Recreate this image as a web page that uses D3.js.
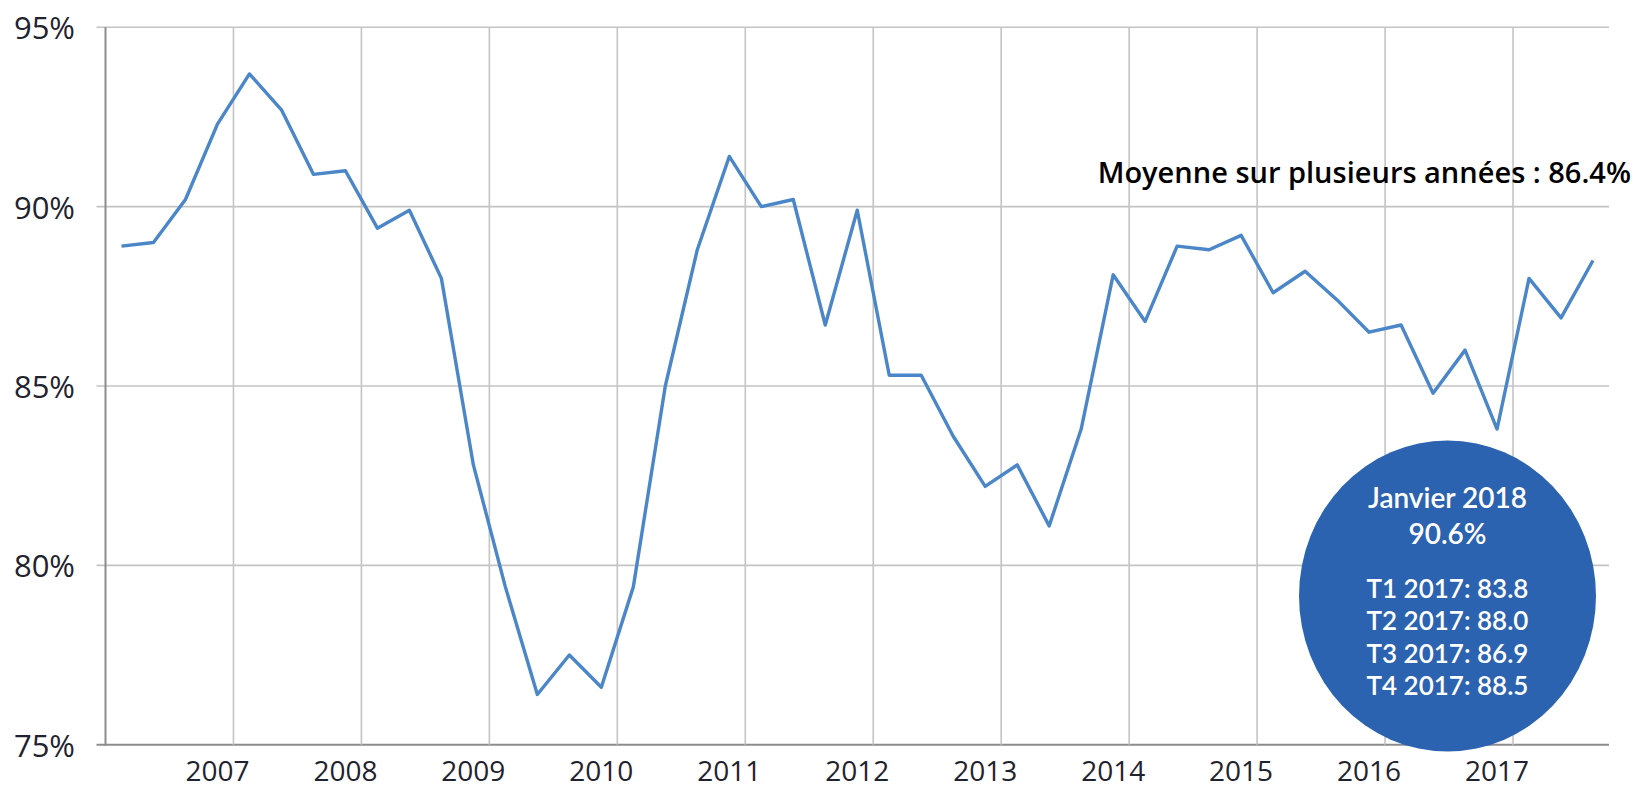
<!DOCTYPE html>
<html>
<head>
<meta charset="utf-8">
<script src="https://cdn.jsdelivr.net/npm/d3@7"></script>
<style>
  html, body { margin: 0; padding: 0; background: #ffffff; }
  svg { display: block; }
</style>
</head>
<body>
<svg id="chart" width="1637" height="789"></svg>
<script>
// ---- Data ----
const quarters = [
  "2006 T2","2006 T3","2006 T4",
  "2007 T1","2007 T2","2007 T3","2007 T4",
  "2008 T1","2008 T2","2008 T3","2008 T4",
  "2009 T1","2009 T2","2009 T3","2009 T4",
  "2010 T1","2010 T2","2010 T3","2010 T4",
  "2011 T1","2011 T2","2011 T3","2011 T4",
  "2012 T1","2012 T2","2012 T3","2012 T4",
  "2013 T1","2013 T2","2013 T3","2013 T4",
  "2014 T1","2014 T2","2014 T3","2014 T4",
  "2015 T1","2015 T2","2015 T3","2015 T4",
  "2016 T1","2016 T2","2016 T3","2016 T4",
  "2017 T1","2017 T2","2017 T3","2017 T4"
];
const values = [
  88.9, 89.0, 90.2,
  92.3, 93.7, 92.7, 90.9,
  91.0, 89.4, 89.9, 88.0,
  82.8, 79.4, 76.4, 77.5,
  76.6, 79.4, 85.0, 88.8,
  91.4, 90.0, 90.2, 86.7,
  89.9, 85.3, 85.3, 83.6,
  82.2, 82.8, 81.1, 83.8,
  88.1, 86.8, 88.9, 88.8,
  89.2, 87.6, 88.2, 87.4,
  86.5, 86.7, 84.8, 86.0,
  83.8, 88.0, 86.9, 88.5
];
const yearLabels = ["2007","2008","2009","2010","2011","2012","2013","2014","2015","2016","2017"];
const yearLabelQuarters = ["2007 T1","2008 T1","2009 T1","2010 T1","2011 T1","2012 T1","2013 T1","2014 T1","2015 T1","2016 T1","2017 T1"];
const gridQuarters = ["2007 T2","2008 T2","2009 T2","2010 T2","2011 T2","2012 T2","2013 T2","2014 T2","2015 T2","2016 T2","2017 T2"];
const yTicks = [75, 80, 85, 90, 95];
const averageText = "Moyenne sur plusieurs années : 86.4%";
const bubbleTitle = ["Janvier 2018", "90.6%"];
const bubbleLines = ["T1 2017: 83.8", "T2 2017: 88.0", "T3 2017: 86.9", "T4 2017: 88.5"];

// ---- Layout ----
const plotLeft = 105.5, plotRight = 1609, plotTop = 27.3, plotBottom = 744.7;
const font = "'Open Sans', 'Noto Sans', sans-serif";
const bubbleFont = "Lato, 'Open Sans', sans-serif";
const svg = d3.select("#chart");

const x = d3.scaleBand().domain(quarters).range([plotLeft, plotRight]).paddingInner(0).paddingOuter(0);
const y = d3.scaleLinear().domain([75, 95]).range([plotBottom, plotTop]);
const cx = q => x(q) + x.bandwidth() / 2;

// horizontal gridlines (with small left tick)
svg.append("g").selectAll("line").data(yTicks).join("line")
  .attr("x1", plotLeft - 9).attr("x2", plotRight)
  .attr("y1", d => y(d)).attr("y2", d => y(d))
  .attr("stroke", d => d === 75 ? "#8c8c8c" : "#c4c4c4")
  .attr("stroke-width", d => d === 75 ? 2 : 1.6);

// vertical gridlines
svg.append("g").selectAll("line").data(gridQuarters).join("line")
  .attr("x1", d => x(d)).attr("x2", d => x(d))
  .attr("y1", plotTop).attr("y2", plotBottom)
  .attr("stroke", "#c4c4c4").attr("stroke-width", 1.6);

// y axis line
svg.append("line")
  .attr("x1", plotLeft).attr("x2", plotLeft).attr("y1", plotTop).attr("y2", plotBottom + 1)
  .attr("stroke", "#8c8c8c").attr("stroke-width", 2);

// y tick labels
svg.append("g").selectAll("text").data(yTicks).join("text")
  .attr("x", 75).attr("y", d => y(d))
  .attr("text-anchor", "end").attr("dominant-baseline", "central")
  .attr("font-family", font).attr("font-size", 31).attr("fill", "#1f2330")
  .text(d => d + "%");

// x year labels
svg.append("g").selectAll("text").data(yearLabels).join("text")
  .attr("x", (d, i) => cx(yearLabelQuarters[i])).attr("y", 781)
  .attr("text-anchor", "middle")
  .attr("font-family", font).attr("font-size", 28).attr("fill", "#1f2330")
  .text(d => d);

// line
const line = d3.line().x((d, i) => cx(quarters[i])).y(d => y(d));
svg.append("path").datum(values)
  .attr("d", line).attr("fill", "none")
  .attr("stroke", "#4a86c8").attr("stroke-width", 3.4)
  .attr("stroke-linejoin", "round");

// average annotation
svg.append("text")
  .attr("x", 1631).attr("y", 171)
  .attr("text-anchor", "end").attr("dominant-baseline", "central")
  .attr("font-family", font).attr("font-size", 29).attr("font-weight", 600).attr("fill", "#000")
  .text(averageText);

// bubble
const bx = 1447.5, by = 596;
svg.append("ellipse").attr("cx", bx).attr("cy", by).attr("rx", 148.5).attr("ry", 155.5)
  .attr("fill", "#2c63b0");
svg.append("g").selectAll("text").data(bubbleTitle).join("text")
  .attr("x", bx).attr("y", (d, i) => 497 + i * 36)
  .attr("text-anchor", "middle").attr("dominant-baseline", "central")
  .attr("font-family", bubbleFont).attr("font-size", 28).attr("font-weight", 600).attr("fill", "#fff")
  .text(d => d);
svg.append("g").selectAll("text").data(bubbleLines).join("text")
  .attr("x", bx).attr("y", (d, i) => 588 + i * 32.3)
  .attr("text-anchor", "middle").attr("dominant-baseline", "central")
  .attr("font-family", bubbleFont).attr("font-size", 26).attr("font-weight", 600).attr("fill", "#fff")
  .text(d => d);
</script>
</body>
</html>
